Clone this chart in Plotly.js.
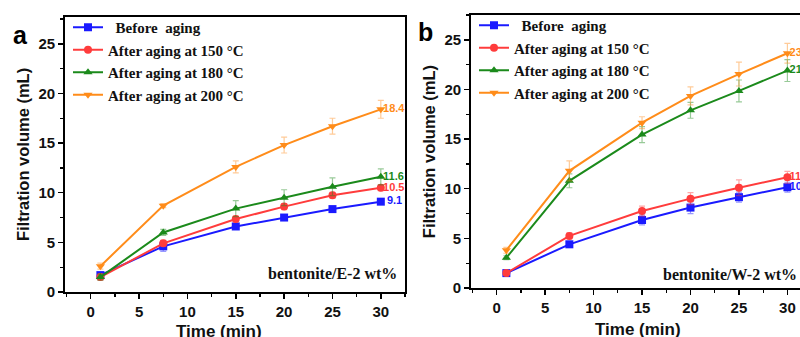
<!DOCTYPE html>
<html>
<head>
<meta charset="utf-8">
<script src="https://cdn.plot.ly/plotly-3.0.1.min.js"></script>
<style>html,body{margin:0;padding:0;background:#fff;}#chart{width:800px;height:337px;}</style>
</head>
<body>
<div id="chart"></div>
<script>
const time = [1, 7.5, 15, 20, 25, 30];
const seriesNames = ['\u00a0\u00a0Before  aging', 'After aging at 150 \u00b0C', 'After aging at 180 \u00b0C', 'After aging at 200 \u00b0C'];
const xTitle = 'Time (min)';
const yTitle = 'Filtration volume (mL)';

// Panel a: bentonite/E-2 wt%
const aBefore = [1.7, 4.6, 6.6, 7.5, 8.35, 9.1];
const a150    = [1.5, 4.9, 7.35, 8.6, 9.75, 10.5];
const a180    = [1.5, 6.0, 8.4, 9.5, 10.6, 11.6];
const a200    = [2.6, 8.7, 12.6, 14.8, 16.7, 18.4];
const aBeforeErr = [0.2, 0.5, 0.2, 0.2, 0.2, 0.2];
const a150Err    = [0.3, 0.3, 0.3, 0.3, 0.3, 0.3];
const a180Err    = [0.3, 0.3, 0.8, 0.8, 0.9, 0.8];
const a200Err    = [0.3, 0.2, 0.6, 0.8, 0.8, 0.9];

// Panel b: bentonite/W-2 wt%
const bBefore = [1.5, 4.4, 6.85, 8.1, 9.15, 10.15];
const b150    = [1.5, 5.25, 7.75, 9.0, 10.1, 11.15];
const b180    = [3.05, 10.8, 15.45, 17.9, 19.85, 21.9];
const b200    = [3.8, 11.8, 16.65, 19.35, 21.55, 23.65];
const bBeforeErr = [0.2, 0.3, 0.5, 0.6, 0.5, 0.5];
const b150Err    = [0.2, 0.3, 0.5, 0.6, 0.8, 0.6];
const b180Err    = [0.2, 0.7, 0.8, 0.8, 1.1, 1.1];
const b200Err    = [0.3, 1.0, 0.6, 0.9, 1.2, 1.0];

const colors = ['#1a1aff', '#ff3c3c', '#1b8a1b', '#ff8c1a'];
const errColors = ['rgba(26,26,255,0.45)', 'rgba(255,60,60,0.45)', 'rgba(27,138,27,0.45)', 'rgba(255,140,26,0.45)'];
const symbols = ['square', 'circle', 'triangle-up', 'triangle-down'];

function mk(vals, errs, k, xa, ya, leg) {
  return {
    x: time, y: vals, xaxis: xa, yaxis: ya, legend: leg,
    name: seriesNames[k], type: 'scatter', mode: 'lines+markers',
    line: {color: colors[k], width: 2},
    marker: {color: colors[k], symbol: symbols[k], size: 8},
    error_y: {type: 'data', array: errs, visible: true, color: errColors[k], thickness: 1.2, width: 3},
    hoverinfo: 'skip'
  };
}
function lbl(vals, k, xa, ya, pad) {
  const n = vals.length - 1;
  return {
    x: [time[n]], y: [vals[n]], xaxis: xa, yaxis: ya, showlegend: false,
    type: 'scatter', mode: 'text', text: [pad + vals[n].toFixed(1)],
    textposition: 'middle right', cliponaxis: false,
    textfont: {family: 'Arial, Liberation Sans', size: 11, color: colors[k], weight: 'bold'},
    hoverinfo: 'skip'
  };
}

const data = [
  mk(aBefore, aBeforeErr, 0, 'x', 'y', 'legend'),
  mk(a150, a150Err, 1, 'x', 'y', 'legend'),
  mk(a180, a180Err, 2, 'x', 'y', 'legend'),
  mk(a200, a200Err, 3, 'x', 'y', 'legend'),
  mk(bBefore, bBeforeErr, 0, 'x2', 'y2', 'legend2'),
  mk(b150, b150Err, 1, 'x2', 'y2', 'legend2'),
  mk(b180, b180Err, 2, 'x2', 'y2', 'legend2'),
  mk(b200, b200Err, 3, 'x2', 'y2', 'legend2'),
  lbl(aBefore, 0, 'x', 'y', '\u00a0\u00a0'),
  lbl(a150, 1, 'x', 'y', '\u2009'),
  lbl(a180, 2, 'x', 'y', '\u2009'),
  lbl(a200, 3, 'x', 'y', '\u2009'),
  lbl(bBefore, 0, 'x2', 'y2', '\u2009'),
  lbl(b150, 1, 'x2', 'y2', '\u2009'),
  lbl(b180, 2, 'x2', 'y2', '\u2009'),
  lbl(b200, 3, 'x2', 'y2', '\u2009')
];

const tickFont = {family: 'Arial, Liberation Sans', size: 15, color: '#111', weight: 'bold'};
const titleFont = {family: 'Arial, Liberation Sans', size: 16.5, color: '#111', weight: 'bold'};
const xTitleFont = {family: 'Arial, Liberation Sans', size: 17, color: '#111', weight: 'bold'};
const legFont = {family: 'Times New Roman, Liberation Serif', size: 15, color: '#111', weight: 'bold'};

function xax(domain, range, anchor) {
  return {domain: domain, range: range, anchor: anchor, tickvals: [0, 5, 10, 15, 20, 25, 30],
    ticks: 'outside', ticklen: 5, tickwidth: 1.5, tickcolor: '#000',
    minor: {ticks: 'outside', dtick: 2.5, tick0: 0, ticklen: 3, tickwidth: 1.2, tickcolor: '#000'},
    showline: true, linecolor: '#000', linewidth: 1.8, mirror: true, showgrid: false, zeroline: false,
    tickfont: tickFont};
}
function yax(domain, range, anchor, mirror) {
  return {domain: domain, range: range, anchor: anchor, tickvals: [0, 5, 10, 15, 20, 25],
    ticks: 'outside', ticklen: 5, tickwidth: 1.5, tickcolor: '#000',
    minor: {ticks: 'outside', dtick: 2.5, tick0: 0, ticklen: 3, tickwidth: 1.2, tickcolor: '#000'},
    showline: true, linecolor: '#000', linewidth: 1.8, mirror: mirror, showgrid: false, zeroline: false,
    tickfont: tickFont, title: {text: yTitle, font: titleFont, standoff: 5}};
}

const layout = {
  width: 800, height: 337,
  margin: {l: 0, r: 0, t: 0, b: 0},
  paper_bgcolor: '#fff', plot_bgcolor: '#fff',
  showlegend: true,
  xaxis: xax([65/800, 405/800], [-2.66, 32.5], 'y'),
  yaxis: yax([(337-292)/337, (337-17)/337], [0, 27.7], 'x', true),
  xaxis2: xax([471/800, 1], [-2.65, 31.3], 'y2'),
  yaxis2: yax([(337-288)/337, (337-15)/337], [0, 27.5], 'x2', false),
  legend: {x: 68/800, xanchor: 'left', y: (337-11)/337, yanchor: 'top', bgcolor: 'rgba(0,0,0,0)',
    font: legFont, tracegroupgap: 0, itemwidth: 30},
  legend2: {x: 474/800, xanchor: 'left', y: (337-9)/337, yanchor: 'top', bgcolor: 'rgba(0,0,0,0)',
    font: legFont, tracegroupgap: 0, itemwidth: 30},
  annotations: [
    {text: xTitle, xref: 'paper', yref: 'paper', x: 219/800, y: (337-331)/337,
      xanchor: 'center', yanchor: 'middle', showarrow: false, font: xTitleFont},
    {text: xTitle, xref: 'paper', yref: 'paper', x: 638/800, y: (337-329)/337,
      xanchor: 'center', yanchor: 'middle', showarrow: false, font: xTitleFont},
    {text: 'bentonite/E-2 wt%', xref: 'paper', yref: 'paper', x: 399/800, y: (337-273)/337,
      xanchor: 'right', yanchor: 'middle', showarrow: false,
      font: {family: 'Times New Roman, Liberation Serif', size: 16, color: '#111', weight: 'bold'}},
    {text: 'bentonite/W-2 wt%', xref: 'paper', yref: 'paper', x: 661/800, y: (337-274)/337,
      xanchor: 'left', yanchor: 'middle', showarrow: false,
      font: {family: 'Times New Roman, Liberation Serif', size: 16, color: '#111', weight: 'bold'}},
    {text: 'a', xref: 'paper', yref: 'paper', x: 11/800, y: (337-35)/337,
      xanchor: 'left', yanchor: 'middle', showarrow: false,
      font: {family: 'Arial, Liberation Sans', size: 25, color: '#000', weight: 'bold'}},
    {text: 'b', xref: 'paper', yref: 'paper', x: 416/800, y: (337-32)/337,
      xanchor: 'left', yanchor: 'middle', showarrow: false,
      font: {family: 'Arial, Liberation Sans', size: 25, color: '#000', weight: 'bold'}}
  ]
};

Plotly.newPlot('chart', data, layout, {staticPlot: true, displayModeBar: false});
</script>
</body>
</html>
